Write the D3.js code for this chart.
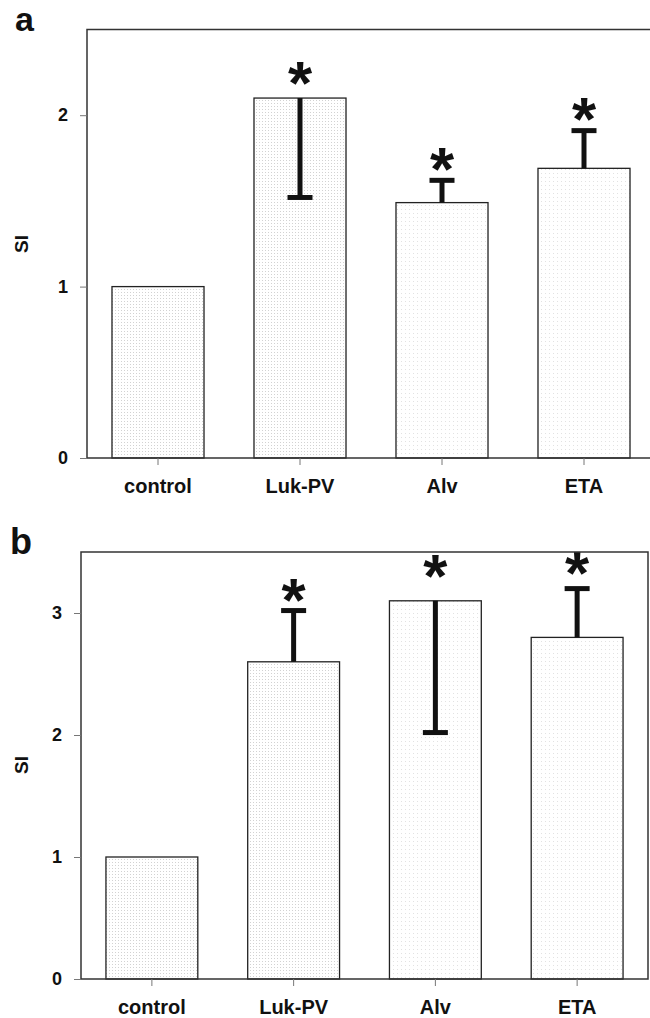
<!DOCTYPE html>
<html>
<head>
<meta charset="utf-8">
<script src="https://cdn.jsdelivr.net/npm/d3@7"></script>
<style>
  body { margin: 0; background: #fff; }
  svg text { font-family: "Liberation Sans", Arial, Helvetica, sans-serif; font-weight: bold; fill: #111; }
</style>
</head>
<body>
<svg id="fig" width="650" height="1018"></svg>
<script>
const categories = ['control', 'Luk-PV', 'Alv', 'ETA'];

// panel a
const siA = [1.0, 2.1, 1.49, 1.69];
const errA = [null, 1.52, 1.62, 1.91];   // end of error bar (SI)
const starA = [null, 2.25, 1.75, 2.04];  // asterisk level (SI)
const ticksA = [0, 1, 2];

// panel b
const siB = [1.0, 2.6, 3.1, 2.8];
const errB = [null, 3.02, 2.02, 3.2];
const starB = [null, 3.2, 3.39, 3.42];
const ticksB = [0, 1, 2, 3];

const svg = d3.select('#fig');

const defs = svg.append('defs');
function stipple(id, step, color) {
  const p = defs.append('pattern')
      .attr('id', id)
      .attr('width', step)
      .attr('height', step)
      .attr('patternUnits', 'userSpaceOnUse');
  p.append('rect').attr('width', step).attr('height', step).attr('fill', '#fff');
  p.append('rect').attr('x', 1).attr('y', 1).attr('width', 1).attr('height', 1).attr('fill', color);
}
stipple('dots-dense', 3, '#d2d2d2');
stipple('dots-light', 4, '#e2e2e2');


function drawPanel(cfg) {
  const g = svg.append('g');
  const x = d3.scaleBand()
    .domain(categories)
    .range([cfg.left, cfg.xEnd])
    .paddingInner(0.352)
    .paddingOuter(0.176);
  const y = d3.scaleLinear()
    .domain([0, cfg.yMax])
    .range([cfg.bottom, cfg.top]);

  const rows = categories.map((c, i) => ({
    cat: c, i, v: cfg.values[i], err: cfg.err[i], star: cfg.star[i]
  }));

  // bars
  g.selectAll('.bar')
    .data(rows)
    .enter().append('rect')
      .attr('class', 'bar')
      .attr('x', d => x(d.cat))
      .attr('y', d => y(d.v))
      .attr('width', x.bandwidth())
      .attr('height', d => y(0) - y(d.v))
      .attr('fill', d => d.i < 2 ? 'url(#dots-dense)' : 'url(#dots-light)')
      .attr('stroke', '#222')
      .attr('stroke-width', 1.3);

  // error bars
  const eb = g.selectAll('.err')
    .data(rows.filter(d => d.err !== null))
    .enter().append('g')
      .attr('class', 'err')
      .attr('stroke', '#111')
      .attr('stroke-width', 5);
  eb.append('line')
      .attr('x1', d => x(d.cat) + x.bandwidth() / 2)
      .attr('x2', d => x(d.cat) + x.bandwidth() / 2)
      .attr('y1', d => y(d.v))
      .attr('y2', d => y(d.err));
  eb.append('line')
      .attr('x1', d => x(d.cat) + x.bandwidth() / 2 - 12.5)
      .attr('x2', d => x(d.cat) + x.bandwidth() / 2 + 12.5)
      .attr('y1', d => y(d.err))
      .attr('y2', d => y(d.err));

  // significance marks
  g.selectAll('.star')
    .data(rows.filter(d => d.star !== null))
    .enter().append('text')
      .attr('class', 'star')
      .attr('x', d => x(d.cat) + x.bandwidth() / 2)
      .attr('y', d => y(d.star) + 32)
      .attr('text-anchor', 'middle')
      .attr('font-size', 62)
      .text('*');

  // frame
  const frameRight = cfg.closed ? cfg.xEnd : 650;
  g.append('path')
      .attr('d', cfg.closed
        ? `M${cfg.left},${cfg.top}H${frameRight}V${cfg.bottom}H${cfg.left}Z`
        : `M${frameRight},${cfg.top}H${cfg.left}V${cfg.bottom}H${frameRight}`)
      .attr('fill', 'none')
      .attr('stroke', '#333')
      .attr('stroke-width', 1.5);

  // axes
  const yAxis = g.append('g')
      .attr('transform', `translate(${cfg.left},0)`)
      .call(d3.axisLeft(y).tickValues(cfg.ticks).tickSize(7).tickPadding(12).tickFormat(d3.format('d')));
  yAxis.select('.domain').remove();
  yAxis.selectAll('line').attr('stroke', '#777');
  yAxis.selectAll('text').attr('font-size', 18);

  const xAxis = g.append('g')
      .attr('transform', `translate(0,${cfg.bottom})`)
      .call(d3.axisBottom(x).tickSize(7).tickPadding(14));
  xAxis.select('.domain').remove();
  xAxis.selectAll('line').attr('stroke', '#777');
  xAxis.selectAll('text').attr('font-size', 20);
  g.selectAll('.tick text').attr('font-family', null);

  // y title
  g.append('text')
      .attr('transform', `translate(${cfg.titleX},${cfg.titleY}) rotate(-90)`)
      .attr('text-anchor', 'middle')
      .attr('font-size', 19)
      .text('SI');

  // panel letter
  g.append('text')
      .attr('x', cfg.letterX)
      .attr('y', cfg.letterY)
      .attr('font-size', cfg.letterSize)
      .text(cfg.letter);
}

drawPanel({
  letter: 'a', letterX: 15, letterY: 31, letterSize: 34,
  values: siA, err: errA, star: starA, ticks: ticksA,
  left: 87, xEnd: 655, top: 29.5, bottom: 458, yMax: 2.5, closed: false,
  titleX: 28, titleY: 244
});

drawPanel({
  letter: 'b', letterX: 10, letterY: 554, letterSize: 36,
  values: siB, err: errB, star: starB, ticks: ticksB,
  left: 81, xEnd: 648, top: 552, bottom: 979, yMax: 3.5, closed: true,
  titleX: 28, titleY: 765
});
</script>
</body>
</html>
